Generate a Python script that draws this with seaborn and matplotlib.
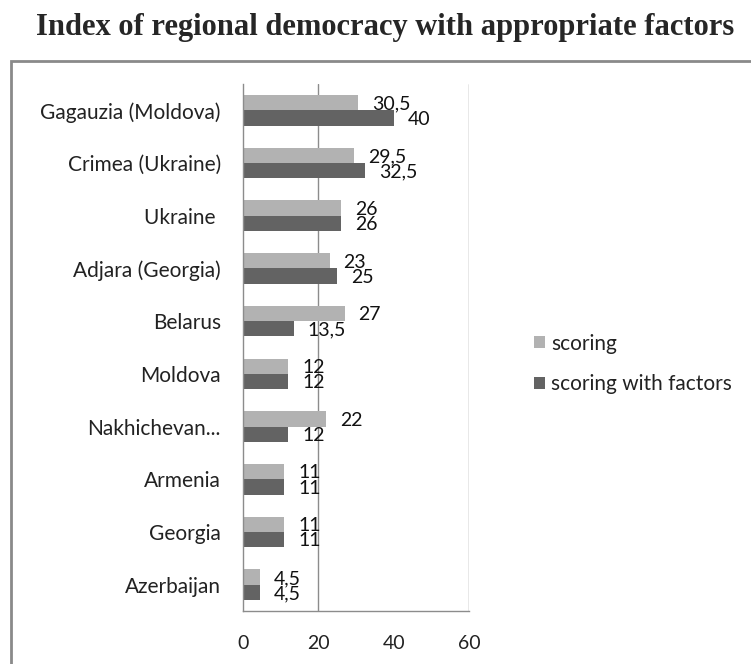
import matplotlib
matplotlib.use("Agg")
import matplotlib.pyplot as plt
import seaborn as sns
import pandas as pd
from matplotlib.patches import Rectangle

regions = ['Gagauzia (Moldova)', 'Crimea (Ukraine)', 'Ukraine ', 'Adjara (Georgia)', 'Belarus',
           'Moldova', 'Nakhichevan...', 'Armenia', 'Georgia', 'Azerbaijan']
scoring = [30.5, 29.5, 26, 23, 27, 12, 22, 11, 11, 4.5]
scoring_factors = [40, 32.5, 26, 25, 13.5, 12, 12, 11, 11, 4.5]
series = ['scoring', 'scoring with factors']
colors = ['#b2b2b2', '#636363']

df = pd.DataFrame({
    'region': regions * 2,
    'value': scoring + scoring_factors,
    'series': [series[0]] * len(regions) + [series[1]] * len(regions),
})

sns.set_style("white")
plt.rcParams['font.family'] = ['Lato', 'DejaVu Sans']

fig = plt.figure(figsize=(7.51, 6.64), dpi=100)
ax = fig.add_axes([243 / 751, 53 / 664, 226 / 751, 527 / 664])

sns.barplot(data=df, x='value', y='region', hue='series', order=regions, hue_order=series,
            palette=colors, orient='h', width=0.58, gap=0, saturation=1, errorbar=None,
            linewidth=0, edgecolor='none', ax=ax)

ax.set_xlim(0, 60)
ax.set_ylim(len(regions) - 0.5, -0.5)
ax.set_xticks([0, 20, 40, 60])
ax.set_xlabel('')
ax.set_ylabel('')

# gridlines (reference only shows 20 and 60)
for gx in [20, 60]:
    ax.axvline(gx, color='#8c8c8c', lw=1, zorder=0)

for side in ['top', 'right']:
    ax.spines[side].set_visible(False)
for side in ['left', 'bottom']:
    ax.spines[side].set_color('#8c8c8c')
    ax.spines[side].set_linewidth(1)

ax.set_yticks([i - 0.5 for i in range(len(regions) + 1)], minor=True)
ax.tick_params(axis='y', which='major', length=0, pad=16, labelsize=15, labelcolor='#222222')
ax.tick_params(axis='y', which='minor', length=5, color='#8c8c8c', direction='out')
ax.tick_params(axis='x', which='major', length=5, color='#8c8c8c', direction='out',
               pad=12, labelsize=14, labelcolor='#222222')

# value labels, Excel style with comma decimal
for cont in ax.containers:
    for bar in cont:
        v = bar.get_width()
        txt = f"{v:g}".replace('.', ',')
        ax.annotate(txt, (v, bar.get_y() + bar.get_height() / 2), xytext=(10, -1),
                    textcoords='offset points', ha='left', va='center',
                    fontsize=14, color='#111111')

leg = ax.legend(loc='center left', bbox_to_anchor=(515 / 751, 300 / 664),
                bbox_transform=fig.transFigure, frameon=False, fontsize=15,
                handlelength=0.55, handleheight=0.55, handletextpad=0.3, labelspacing=1.0)
for t in leg.get_texts():
    t.set_color('#222222')

fig.text(385 / 751, 1 - 28 / 664, 'Index of regional democracy with appropriate factors',
         ha='center', va='center', fontsize=22, fontweight='bold', family='Liberation Serif')

fig.patches.append(Rectangle((11 / 751, -0.05), 1.0, 1 - 61 / 664 + 0.05, transform=fig.transFigure,
                             fill=False, edgecolor='#8a8a8a', lw=2))

fig.savefig('out.png', dpi=100)
